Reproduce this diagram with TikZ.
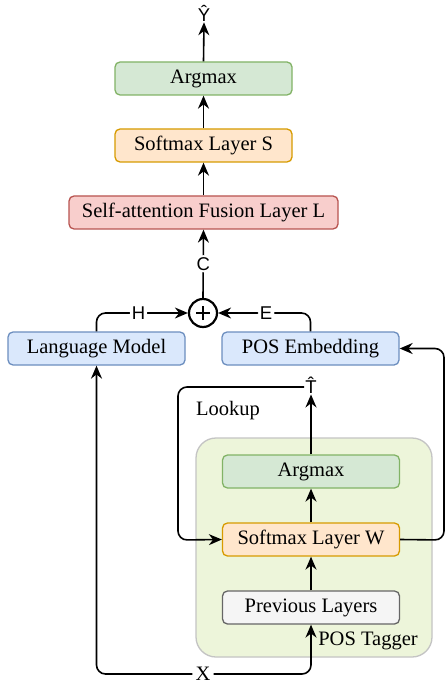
\documentclass[tikz,border=0pt]{standalone}
\usepackage{fontspec}
\setmainfont{Liberation Serif}
\newfontfamily\lsans{Liberation Sans}
\usetikzlibrary{arrows.meta}
\definecolor{gfill}{HTML}{D5E8D4}
\definecolor{gdraw}{HTML}{82B366}
\definecolor{ofill}{HTML}{FFE6CC}
\definecolor{odraw}{HTML}{D79B00}
\definecolor{rfill}{HTML}{F8CECC}
\definecolor{rdraw}{HTML}{B85450}
\definecolor{bfill}{HTML}{DAE8FC}
\definecolor{bdraw}{HTML}{6C8EBF}
\definecolor{kfill}{HTML}{F5F5F5}
\definecolor{kdraw}{HTML}{666666}
\definecolor{tfill}{HTML}{EDF5DA}
\definecolor{tdraw}{HTML}{C4C4C4}
\begin{document}
\begin{tikzpicture}[x=1pt,y=-1pt,
  box/.style={draw, rounded corners=5pt, line width=1.3pt, minimum width=177pt, minimum height=33pt, inner sep=0pt, font=\fontsize{20.5}{24}\selectfont},
  gbox/.style={box, fill=gfill, draw=gdraw},
  obox/.style={box, fill=ofill, draw=odraw},
  rbox/.style={box, fill=rfill, draw=rdraw},
  bbox/.style={box, fill=bfill, draw=bdraw},
  kbox/.style={box, fill=kfill, draw=kdraw},
  arr/.style={line width=1.6pt, -{Stealth[length=13pt,width=11pt]}},
  lbl/.style={fill=white, inner sep=2pt, font=\lsans\fontsize{18.5}{20}\selectfont},
  stxt/.style={inner sep=1pt, font=\fontsize{20.5}{24}\selectfont},
  rounded corners=9pt]
\useasboundingbox (0,0) rectangle (447,684);
\fill[white] (0,0) rectangle (447,684);
% POS tagger region
\node[draw=tdraw, fill=tfill, line width=1.3pt, rounded corners=20pt, minimum width=236pt, minimum height=219pt] (tag) at (314,547.5) {};
% boxes
\node[gbox] (arg) at (203.5,78.5) {Argmax};
\node[obox] (sms) at (203.5,145.5) {Softmax Layer S};
\node[rbox, minimum width=269pt] (fus) at (203.5,212.5) {Self-attention Fusion Layer L};
\node[bbox] (lm) at (96.5,348.5) {Language Model};
\node[bbox] (pe) at (310.5,348.5) {POS Embedding};
\node[gbox] (arg2) at (311,471.5) {Argmax};
\node[obox] (smw) at (311,539.5) {Softmax Layer W};
\node[kbox] (pl) at (311,607.5) {Previous Layers};
% plus
\node[draw, circle, line width=2.2pt, minimum size=28pt, inner sep=0pt] (plus) at (203,313) {};
\draw[line width=2.6pt, rounded corners=0pt] ([xshift=-7pt]plus.center) -- ([xshift=7pt]plus.center) ([yshift=-7pt]plus.center) -- ([yshift=7pt]plus.center);
% labels
\node[inner sep=1pt, font=\lsans\fontsize{18.5}{20}\selectfont] (yhat) at (204,13) {\^{Y}};
\node[inner sep=1pt, font=\lsans\fontsize{18.5}{20}\selectfont] (that) at (311,385) {\^{T}};
\node[stxt] (lookup) at (228,411) {Lookup};
\node[stxt] (tagtxt) at (368,641) {POS Tagger};
\node[stxt, fill=white, inner sep=3pt] (xn) at (203,674) {X};
% coordinates
\coordinate (lkA) at (178,387);
\coordinate (lkB) at (178,540);
\coordinate (rA) at (444,540);
\coordinate (rB) at (444,348.5);
% connectors
\draw[arr] (arg.north) -- (yhat.south);
\draw[arr] (sms.north) -- (arg.south);
\draw[arr] (fus.north) -- (sms.south);
\draw[arr] (plus.north) -- node[lbl]{C} (fus.south);
\draw[arr] (lm.north) |- node[lbl, pos=0.73]{H} (plus.west);
\draw[arr] (pe.north) |- node[lbl, pos=0.74]{E} (plus.east);
\draw[arr] (arg2.north) -- (that.south);
\draw[arr] (smw.north) -- (arg2.south);
\draw[arr] (pl.north) -- (smw.south);
\draw[arr] (that.west |- lkA) -- (lkA) -- (lkB) -- (smw.west);
\draw[arr] (smw.east) -- (rA) -- (rB) -- (pe.east);
\draw[arr] (xn.west) -| (lm.south);
\draw[arr] (xn.east) -| (pl.south);
\end{tikzpicture}
\end{document}
